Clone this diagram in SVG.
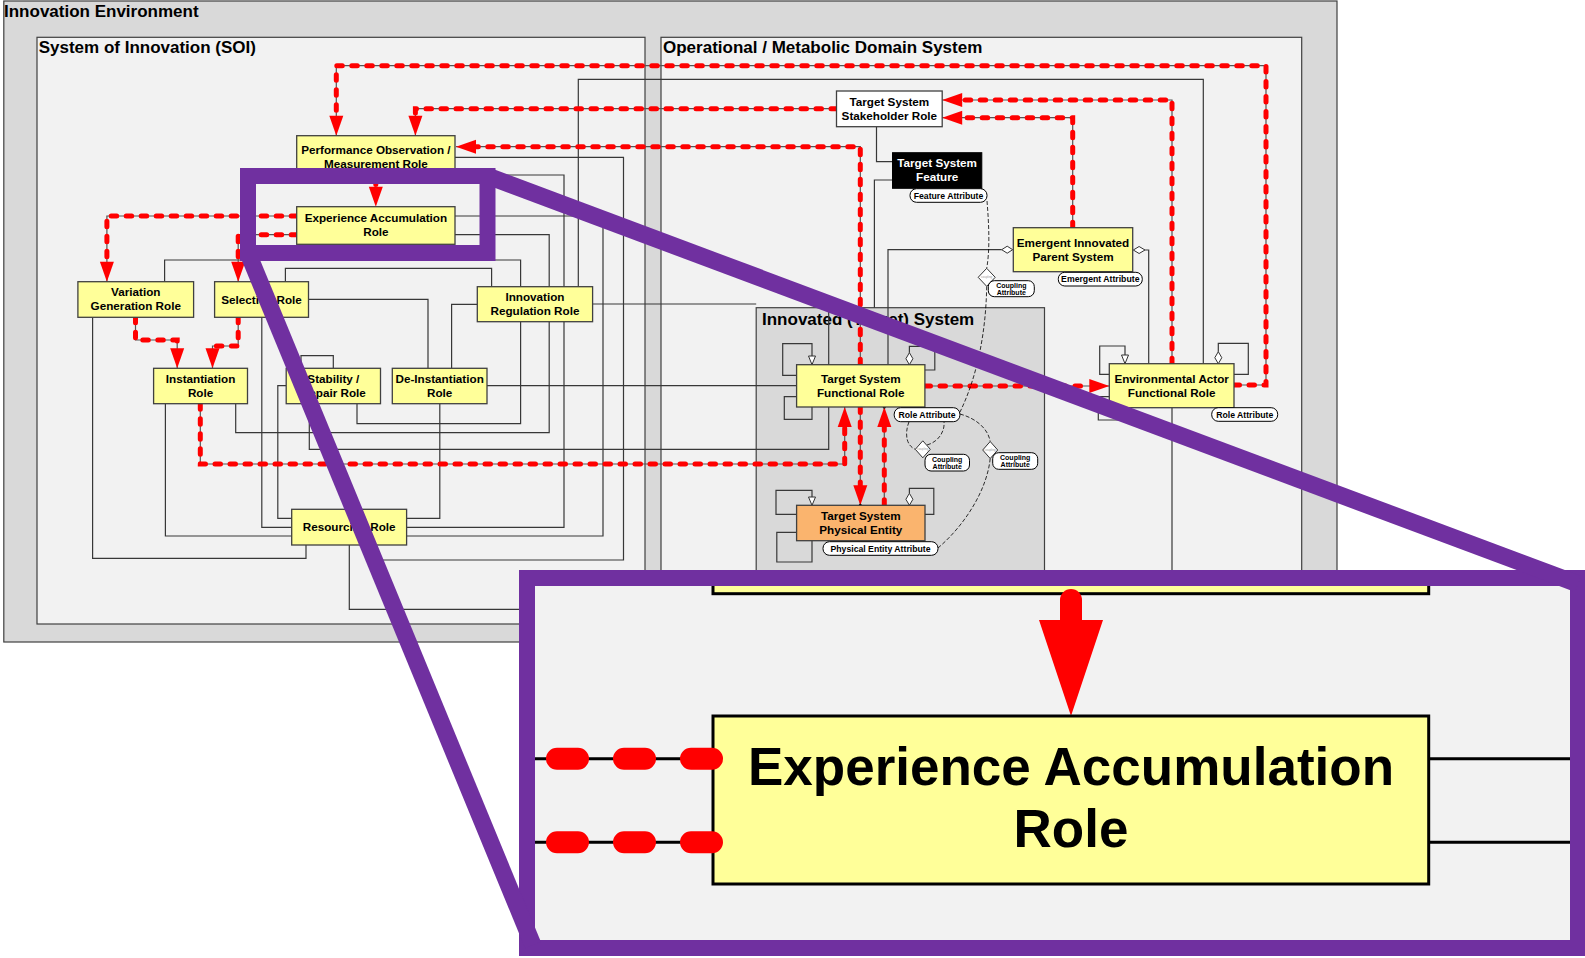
<svg xmlns="http://www.w3.org/2000/svg" width="1585" height="958" viewBox="0 0 1585 958">
<defs>
<style>
.fr{stroke:#404040;stroke-width:1.2}
.ttl{font-family:"Liberation Sans",Arial,sans-serif;font-weight:bold;font-size:17px;fill:#000}
.n{fill:#ffff99;stroke:#404040;stroke-width:1.3}
.t{font-family:"Liberation Sans",Arial,sans-serif;font-weight:bold;font-size:11.7px;text-anchor:middle;fill:#000}
.c{fill:none;stroke:#383838;stroke-width:1.2}
.rg{fill:none;stroke:#555;stroke-width:1.2}
.rd{fill:none;stroke:#ff0000;stroke-width:5;stroke-dasharray:5.5 9.5;stroke-linecap:round}
.hol{fill:#fff;stroke:#333;stroke-width:1}
.att{fill:#fff;stroke:#000;stroke-width:1}
.at{font-family:"Liberation Sans",Arial,sans-serif;font-weight:bold;font-size:8.7px;text-anchor:middle;fill:#000}
.ct{font-family:"Liberation Sans",Arial,sans-serif;font-weight:bold;font-size:7px;text-anchor:middle;fill:#000}
.tiny{font-family:"Liberation Sans",Arial,sans-serif;font-size:3px;text-anchor:middle;fill:#999}
.cd{fill:none;stroke:#000;stroke-width:0.8;stroke-dasharray:4 2}
.pu{fill:none;stroke:#7030a0;stroke-width:16}
</style>
<marker id="ah" markerUnits="userSpaceOnUse" markerWidth="20" markerHeight="14" refX="0" refY="7" orient="auto" overflow="visible">
<path d="M0,0 L20,7 L0,14 z" fill="#ff0000"/>
</marker>
</defs>

<!-- frames -->
<g id="innovation-environment">
<rect class="fr" x="3.8" y="1" width="1333.2" height="641" fill="#d9d9d9"/>
<text class="ttl" x="4" y="17">Innovation Environment</text>
</g>
<g id="soi">
<rect class="fr" x="37" y="37.3" width="608" height="586.7" fill="#f2f2f2"/>
<text class="ttl" x="38.7" y="53">System of Innovation (SOI)</text>
</g>
<g id="omd">
<rect class="fr" x="661" y="37.3" width="640.7" height="586.7" fill="#f2f2f2"/>
<text class="ttl" x="663" y="53">Operational / Metabolic Domain System</text>
</g>
<g id="innovated-system">
<rect class="fr" x="756.2" y="307.7" width="288.3" height="300" fill="#d9d9d9"/>
<text class="ttl" x="762" y="325">Innovated (Target) System</text>
</g>

<!-- connectors -->
<g id="connectors">
<path class="c" d="M578.3,286.7 V79.3 H1203.3 V363.7"/>
<path class="c" d="M164.6,281.7 V260 H520.6 V286.7"/>
<path class="c" d="M285.4,281.7 V268.3 H491.6 V286.7"/>
<path class="c" d="M455,157.3 H623.5 V560 H372 V545"/>
<path class="c" d="M455,175 H564 V527.3 H406.6"/>
<path class="c" d="M455,216 H603 V536 H406.6"/>
<path class="c" d="M455,234.7 H549.2 V432.7 H235.7 V403.7"/>
<path class="c" d="M92.6,317.3 V558.3 H306 V545"/>
<path class="c" d="M165.4,403.7 V536 H291.7"/>
<path class="c" d="M520.6,321.7 V423.7 H357 V403.7"/>
<path class="c" d="M301,368.3 V355.7 H333.3 V368.3"/>
<path class="c" d="M309.3,403.7 V449.3 H828.7 V307.7"/>
<path class="c" d="M308.5,299.3 H428 V368.3"/>
<path class="c" d="M261.8,317.3 V527.3 H291.7"/>
<path class="c" d="M286.2,385.7 H277.8 V518.3 H291.7"/>
<path class="c" d="M487,385.7 H796.6"/>
<path class="c" d="M451.6,368.3 V304.3 H477.3"/>
<path class="c" d="M439.8,403.7 V518.3 H406.6"/>
<path class="c" d="M592.6,304 H756.2"/>
<path class="c" d="M349.3,545 V609.3 H760"/>
<path class="c" d="M876.5,126.7 V161.7 H892.5"/>
<path class="c" d="M892.5,180 H874.4 V307.7"/>
<path class="c" d="M1001.7,249.7 H888 V364.7"/>
<path class="c" d="M1145,250 H1148.7 V363.7"/>
<path class="c" d="M1172,407.7 V620"/>
<!-- self loops -->
<path class="c" d="M796.6,375.3 H782.7 V343.7 H812 V356"/>
<path class="c" d="M796.6,396.7 H784.3 V419.3 H812 V407"/>
<path class="c" d="M909.4,352.7 V346.3 H934.8 V370 H924.9"/>
<path class="c" d="M796.6,514.3 H776 V490.3 H812 V497"/>
<path class="c" d="M796.6,532.3 H776.8 V562 H812 V540.7"/>
<path class="c" d="M909.4,493.3 V488.3 H933.8 V514.3 H925"/>
<path class="c" d="M1109.3,374.3 H1099.7 V346 H1125 V355"/>
<path class="c" d="M1218.3,351.7 V343.3 H1248.3 V374.3 H1234"/>
<path class="c" d="M1109.3,396.7 H1098.3 V420 H1125 V407.7"/>
<path class="hol" d="M808.5,356 H815.5 L812,364.7 z"/>
<path class="hol" d="M808.5,497 H815.5 L812,505.3 z"/>
<path class="hol" d="M1121.5,355 H1128.5 L1125,363.7 z"/>
<path class="hol" d="M909.4,352.7 L912.9,358.7 L909.4,364.7 L905.9,358.7 z"/>
<path class="hol" d="M909.4,493.3 L912.9,499.3 L909.4,505.3 L905.9,499.3 z"/>
<path class="hol" d="M1218.3,351.7 L1221.8,357.7 L1218.3,363.7 L1214.8,357.7 z"/>
<path class="hol" d="M1012.7,249.7 L1007.2,246.2 L1001.7,249.7 L1007.2,253.2 z"/>
<path class="hol" d="M1133.3,250 L1139.1,246.5 L1145,250 L1139.1,253.5 z"/>
<!-- red flows: grey base -->
<path class="rg" d="M1234,385 H1266 V65.7 H336.3 V135.7"/>
<path class="rg" d="M860.3,364.7 V146.7 H456"/>
<path class="rg" d="M836.5,108.7 H415.4 V135.7"/>
<path class="rg" d="M1072.7,227.7 V117.7 H942.2"/>
<path class="rg" d="M1172,363.7 V100 H942.2"/>
<path class="rg" d="M925,386 H1109.3"/>
<path class="rg" d="M860.3,407 V505.3"/>
<path class="rg" d="M884.3,505.3 V407"/>
<path class="rg" d="M200.3,403.7 V464 H844.7 V407"/>
<path class="rg" d="M296.7,216 H106.9 V281.7"/>
<path class="rg" d="M296.7,234.7 H238.2 V281.7"/>
<path class="rg" d="M135.5,317.3 V340 H177.2 V368.3"/>
<path class="rg" d="M238.2,317.3 V346 H212.5 V368.3"/>
<!-- red flows: dashes + arrowheads -->
<path class="rd" marker-end="url(#ah)" d="M1234,385 H1266 V65.7 H336.3 V115.7"/>
<path class="rd" marker-end="url(#ah)" d="M860.3,364.7 V146.7 H476"/>
<path class="rd" marker-end="url(#ah)" d="M836.5,108.7 H415.4 V115.7"/>
<path class="rd" marker-end="url(#ah)" d="M1072.7,227.7 V117.7 H962.2"/>
<path class="rd" marker-end="url(#ah)" d="M1172,363.7 V100 H962.2"/>
<path class="rd" marker-end="url(#ah)" d="M925,386 H1089.3"/>
<path class="rd" marker-end="url(#ah)" d="M860.3,407 V485.3"/>
<path class="rd" marker-end="url(#ah)" d="M884.3,505.3 V427"/>
<path class="rd" marker-end="url(#ah)" d="M200.3,403.7 V464 H844.7 V427"/>
<path class="rd" marker-end="url(#ah)" d="M296.7,216 H106.9 V261.7"/>
<path class="rd" marker-end="url(#ah)" d="M296.7,234.7 H238.2 V261.7"/>
<path class="rd" marker-end="url(#ah)" d="M135.5,317.3 V340 H177.2 V348.3"/>
<path class="rd" marker-end="url(#ah)" d="M238.2,317.3 V346 H212.5 V348.3"/>
<path class="rd" marker-end="url(#ah)" d="M375.8,179 V186.7"/>
<circle cx="884.3" cy="407" r="1.6" fill="#000"/>
<circle cx="860.3" cy="505.3" r="1.6" fill="#000"/>
<!-- coupling dashed links -->
<path class="cd" d="M987,201 C989,225 990,250 986.7,268.3"/>
<path class="cd" d="M986.7,286.3 C986,330 978,375 960,412"/>
<path class="cd" d="M909,421.7 C904,435 907,446 915.3,449.3"/>
<path class="cd" d="M927,445 C938,442 945,432 944,421.7"/>
<path class="cd" d="M959.9,414 C975,418 988,428 990.2,441.5"/>
<path class="cd" d="M990.2,458.5 C987,490 965,525 938,548"/>
</g>

<!-- SOI nodes -->
<g id="performance-observation">
<rect class="n" x="296.7" y="135.7" width="158.3" height="43.3"/>
<text class="t" x="375.9" y="154.2">Performance Observation /</text>
<text class="t" x="375.9" y="168.2">Measurement Role</text>
</g>
<g id="experience-accumulation">
<rect class="n" x="296.7" y="206.7" width="158.3" height="37.6"/>
<text class="t" x="375.9" y="222.3">Experience Accumulation</text>
<text class="t" x="375.9" y="236.3">Role</text>
</g>
<g id="variation-generation">
<rect class="n" x="77.9" y="281.7" width="115.7" height="35.6"/>
<text class="t" x="135.75" y="296.3">Variation</text>
<text class="t" x="135.75" y="310.3">Generation Role</text>
</g>
<g id="selection">
<rect class="n" x="214.6" y="281.7" width="93.9" height="35.6"/>
<text class="t" x="261.55" y="303.7">Selection Role</text>
</g>
<g id="instantiation">
<rect class="n" x="153.6" y="368.3" width="93.9" height="35.4"/>
<text class="t" x="200.55" y="382.8">Instantiation</text>
<text class="t" x="200.55" y="396.8">Role</text>
</g>
<g id="stability-repair">
<rect class="n" x="286.2" y="368.3" width="94.3" height="35.4"/>
<text class="t" x="333.35" y="382.8">Stability /</text>
<text class="t" x="333.35" y="396.8">Repair Role</text>
</g>
<g id="de-instantiation">
<rect class="n" x="392.3" y="368.3" width="94.7" height="35.4"/>
<text class="t" x="439.65" y="382.8">De-Instantiation</text>
<text class="t" x="439.65" y="396.8">Role</text>
</g>
<g id="innovation-regulation">
<rect class="n" x="477.3" y="286.7" width="115.3" height="35"/>
<text class="t" x="534.95" y="301">Innovation</text>
<text class="t" x="534.95" y="315">Regulation Role</text>
</g>
<g id="resourcing">
<rect class="n" x="291.7" y="509.3" width="114.9" height="35.7"/>
<text class="t" x="349.15" y="531.3">Resourcing Role</text>
</g>

<!-- OMD nodes -->
<g id="stakeholder">
<rect x="836.5" y="91" width="105.7" height="35.7" fill="#fff" stroke="#404040" stroke-width="1.3"/>
<text class="t" x="889.35" y="105.6">Target System</text>
<text class="t" x="889.35" y="119.6">Stakeholder Role</text>
</g>
<g id="feature">
<rect x="892.5" y="152.7" width="89.3" height="35.6" fill="#000" stroke="#000"/>
<text class="t" x="937.15" y="167.3" style="fill:#fff">Target System</text>
<text class="t" x="937.15" y="181.3" style="fill:#fff">Feature</text>
<rect class="att" x="910" y="188.7" width="77" height="13.6" rx="6.5"/>
<text class="at" x="948.5" y="198.6">Feature Attribute</text>
</g>
<g id="emergent">
<rect class="n" x="1013.3" y="227.7" width="119.4" height="44"/>
<text class="t" x="1073" y="246.5">Emergent Innovated</text>
<text class="t" x="1073" y="260.5">Parent System</text>
<rect class="att" x="1058.3" y="272.3" width="84" height="13.7" rx="6.5"/>
<text class="at" x="1100.3" y="282.3">Emergent Attribute</text>
</g>
<g id="tsfr">
<rect class="n" x="796.6" y="364.7" width="128.3" height="42.3"/>
<text class="t" x="860.75" y="382.6">Target System</text>
<text class="t" x="860.75" y="396.6">Functional Role</text>
<rect class="att" x="894.2" y="407.7" width="65.7" height="14" rx="6.5"/>
<text class="at" x="927" y="417.8">Role Attribute</text>
</g>
<g id="physical-entity">
<rect x="796.6" y="505.3" width="128.4" height="35.4" fill="#fab46e" stroke="#404040" stroke-width="1.3"/>
<text class="t" x="860.8" y="519.8">Target System</text>
<text class="t" x="860.8" y="533.8">Physical Entity</text>
<rect class="att" x="823" y="541.7" width="115" height="13.6" rx="6.5"/>
<text class="at" x="880.5" y="551.6">Physical Entity Attribute</text>
</g>
<g id="eafr">
<rect class="n" x="1109.3" y="363.7" width="124.7" height="44"/>
<text class="t" x="1171.65" y="382.5">Environmental Actor</text>
<text class="t" x="1171.65" y="396.5">Functional Role</text>
<rect class="att" x="1211.7" y="407.7" width="66" height="13.6" rx="6.5"/>
<text class="at" x="1244.7" y="417.6">Role Attribute</text>
</g>
<g id="coupling-1">
<path class="hol" d="M986.7,268.3 L995.2,277.3 L986.7,286.3 L978.2,277.3 z"/>
<text class="tiny" x="986.7" y="278.3">coupling</text>
<rect class="att" x="988.3" y="280.7" width="46" height="16" rx="6"/>
<text class="ct" x="1011.3" y="288">Coupling</text>
<text class="ct" x="1011.3" y="295">Attribute</text>
</g>
<g id="coupling-2">
<path class="hol" d="M922.8,440.8 L930.3,449.3 L922.8,457.8 L915.3,449.3 z"/>
<text class="tiny" x="922.8" y="450.3">coupling</text>
<rect class="att" x="925" y="454.3" width="44.5" height="16.7" rx="6"/>
<text class="ct" x="947.2" y="461.5">Coupling</text>
<text class="ct" x="947.2" y="468.8">Attribute</text>
</g>
<g id="coupling-3">
<path class="hol" d="M990.2,441.5 L997.7,450 L990.2,458.5 L982.7,450 z"/>
<text class="tiny" x="990.2" y="451">coupling</text>
<rect class="att" x="992.7" y="452.7" width="45" height="16.6" rx="6"/>
<text class="ct" x="1015.2" y="460">Coupling</text>
<text class="ct" x="1015.2" y="467.3">Attribute</text>
</g>

<!-- magnified callout -->
<g id="callout">
<rect x="527" y="578" width="1051" height="370" fill="#f2f2f2"/>
<rect x="713" y="574" width="715.7" height="19.7" fill="#ffff99" stroke="#000" stroke-width="3"/>
<line x1="1071" y1="600" x2="1071" y2="622" stroke="#ff0000" stroke-width="22" stroke-linecap="round"/>
<polygon points="1039,620 1103,620 1071,716" fill="#ff0000"/>
<path d="M535,758.7 H713 M535,842.3 H713 M1428.7,758.7 H1571 M1428.7,842.3 H1571" stroke="#000" stroke-width="3" fill="none"/>
<rect x="713" y="716" width="715.7" height="168" fill="#ffff99" stroke="#000" stroke-width="3"/>
<path d="M712,758.7 H535 M712,842.3 H535" fill="none" stroke="#ff0000" stroke-width="22" stroke-linecap="round" stroke-dasharray="21 46"/>
<text x="1071" y="785" font-family="Liberation Sans, Arial, sans-serif" font-weight="bold" font-size="53" text-anchor="middle">Experience Accumulation</text>
<text x="1071" y="847" font-family="Liberation Sans, Arial, sans-serif" font-weight="bold" font-size="53" text-anchor="middle">Role</text>
<rect class="pu" x="527" y="578" width="1051" height="370"/>
</g>
<g id="magnifier">
<line x1="487.5" y1="176" x2="1578" y2="584" stroke="#7030a0" stroke-width="17"/>
<line x1="248" y1="253" x2="533" y2="945" stroke="#7030a0" stroke-width="17"/>
<rect class="pu" x="248" y="176" width="239.5" height="77"/>
</g>
</svg>
